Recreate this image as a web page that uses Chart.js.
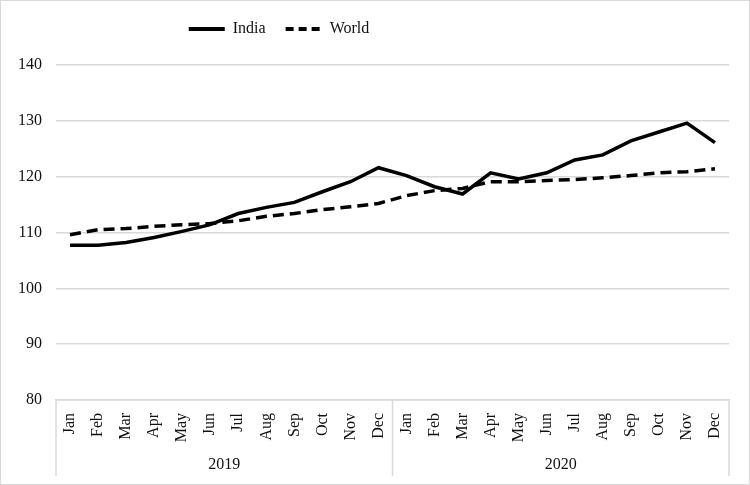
<!DOCTYPE html>
<html>
<head>
<meta charset="utf-8">
<script src="https://cdn.jsdelivr.net/npm/chart.js@4"></script>
<style>
  body { margin: 0; background: #fff; }
  #wrap { width: 748px; height: 483px; border: 1px solid #d9d9d9; }
</style>
</head>
<body>
<div id="wrap"><canvas id="priceChart" width="748" height="483"></canvas></div>
<script>
var months = ['Jan','Feb','Mar','Apr','May','Jun','Jul','Aug','Sep','Oct','Nov','Dec'];
var years = ['2019','2020'];
var labels = months.concat(months);

var india = [107.7,107.7,108.2,109.1,110.2,111.4,113.4,114.5,115.4,117.3,119.1,121.6,
             120.2,118.2,116.9,120.7,119.6,120.7,123.0,123.9,126.4,128.0,129.6,126.1];
var world = [109.6,110.5,110.7,111.1,111.4,111.6,112.1,112.9,113.4,114.1,114.6,115.2,
             116.6,117.5,117.9,119.1,119.1,119.3,119.5,119.8,120.2,120.7,120.9,121.4];

var serif = "'Liberation Serif', 'Times New Roman', serif";
var gridColor = '#d9d9d9';

//legend sits left of centre and leaves a gap above the plot
var legendTweak = {
  id: 'legendTweak',
  beforeLayout: function(chart) {
    var lg = chart.legend;
    if (!lg || lg._tweaked) return;
    var fit = lg.fit;
    var draw = lg.draw;
    lg.fit = function() { fit.call(this); this.height += 18; };
    lg.draw = function() {
      this.ctx.save();
      this.ctx.translate(-86, 0);
      draw.call(this);
      this.ctx.restore();
    };
    lg._tweaked = true;
  }
};

//year row under the month labels, with separators
var yearRow = {
  id: 'yearRow',
  afterDraw: function(chart) {
    var ctx = chart.ctx;
    var xs = chart.scales.x;
    var area = chart.chartArea;
    var per = months.length;
    var bounds = [area.left];
    for (var i = 1; i < years.length; i++) {
      bounds.push((xs.getPixelForValue(i * per - 1) + xs.getPixelForValue(i * per)) / 2);
    }
    bounds.push(area.right);
    ctx.save();
    ctx.strokeStyle = gridColor;
    ctx.lineWidth = 1.5;
    bounds.forEach(function(b) {
      ctx.beginPath();
      ctx.moveTo(b, area.bottom);
      ctx.lineTo(b, area.bottom + 76);
      ctx.stroke();
    });
    ctx.fillStyle = '#111';
    ctx.font = '16px ' + serif;
    ctx.textAlign = 'center';
    ctx.textBaseline = 'middle';
    years.forEach(function(y, i) {
      ctx.fillText(y, (bounds[i] + bounds[i + 1]) / 2, area.bottom + 65);
    });
    ctx.restore();
  }
};

var ctxEl = document.getElementById('priceChart');
var priceChart = new Chart(ctxEl, {
  type: 'line',
  data: {
    labels: labels,
    datasets: [{
      label: 'India',
      data: india,
      borderColor: '#000',
      backgroundColor: '#000',
      borderWidth: 3.5,
      pointRadius: 0,
      tension: 0
    },
    {
      label: 'World',
      data: world,
      borderColor: '#000',
      backgroundColor: '#000',
      borderWidth: 3.5,
      borderDash: [11, 6],
      pointRadius: 0,
      tension: 0
    }]
  },
  options: {
    responsive: false,
    animation: false,
    layout: { padding: { left: 0, right: 20, top: 0, bottom: 0 } },
    plugins: {
      legend: {
        position: 'top',
        labels: {
          font: { family: serif, size: 16 },
          color: '#111',
          usePointStyle: true,
          pointStyle: 'line',
          pointStyleWidth: 36,
          boxWidth: 36,
          boxHeight: 12,
          padding: 20,
          generateLabels: function(chart) {
            var items = Chart.defaults.plugins.legend.labels.generateLabels(chart);
            items.forEach(function(item) {
              var ds = chart.data.datasets[item.datasetIndex];
              item.lineDash = ds.borderDash ? [8, 5] : [];
              item.lineWidth = 4;
              item.strokeStyle = '#000';
            });
            return items;
          }
        }
      },
      tooltip: { enabled: false }
    },
    scales: {
      x: {
        offset: true,
        grid: { display: false },
        border: { display: true, color: gridColor, width: 1.5 },
        ticks: {
          font: { family: serif, size: 16 },
          color: '#111',
          minRotation: 90,
          maxRotation: 90,
          padding: 5
        },
        afterFit: function(scale) { scale.height = 84; }
      },
      y: {
        min: 80,
        max: 140,
        grid: { color: gridColor, lineWidth: 1.5, drawTicks: false },
        border: { display: false },
        ticks: {
          stepSize: 10,
          font: { family: serif, size: 16 },
          color: '#111',
          padding: 14
        },
        afterFit: function(scale) { scale.width = 55; }
      }
    }
  },
  plugins: [legendTweak, yearRow]
});
</script>
</body>
</html>
